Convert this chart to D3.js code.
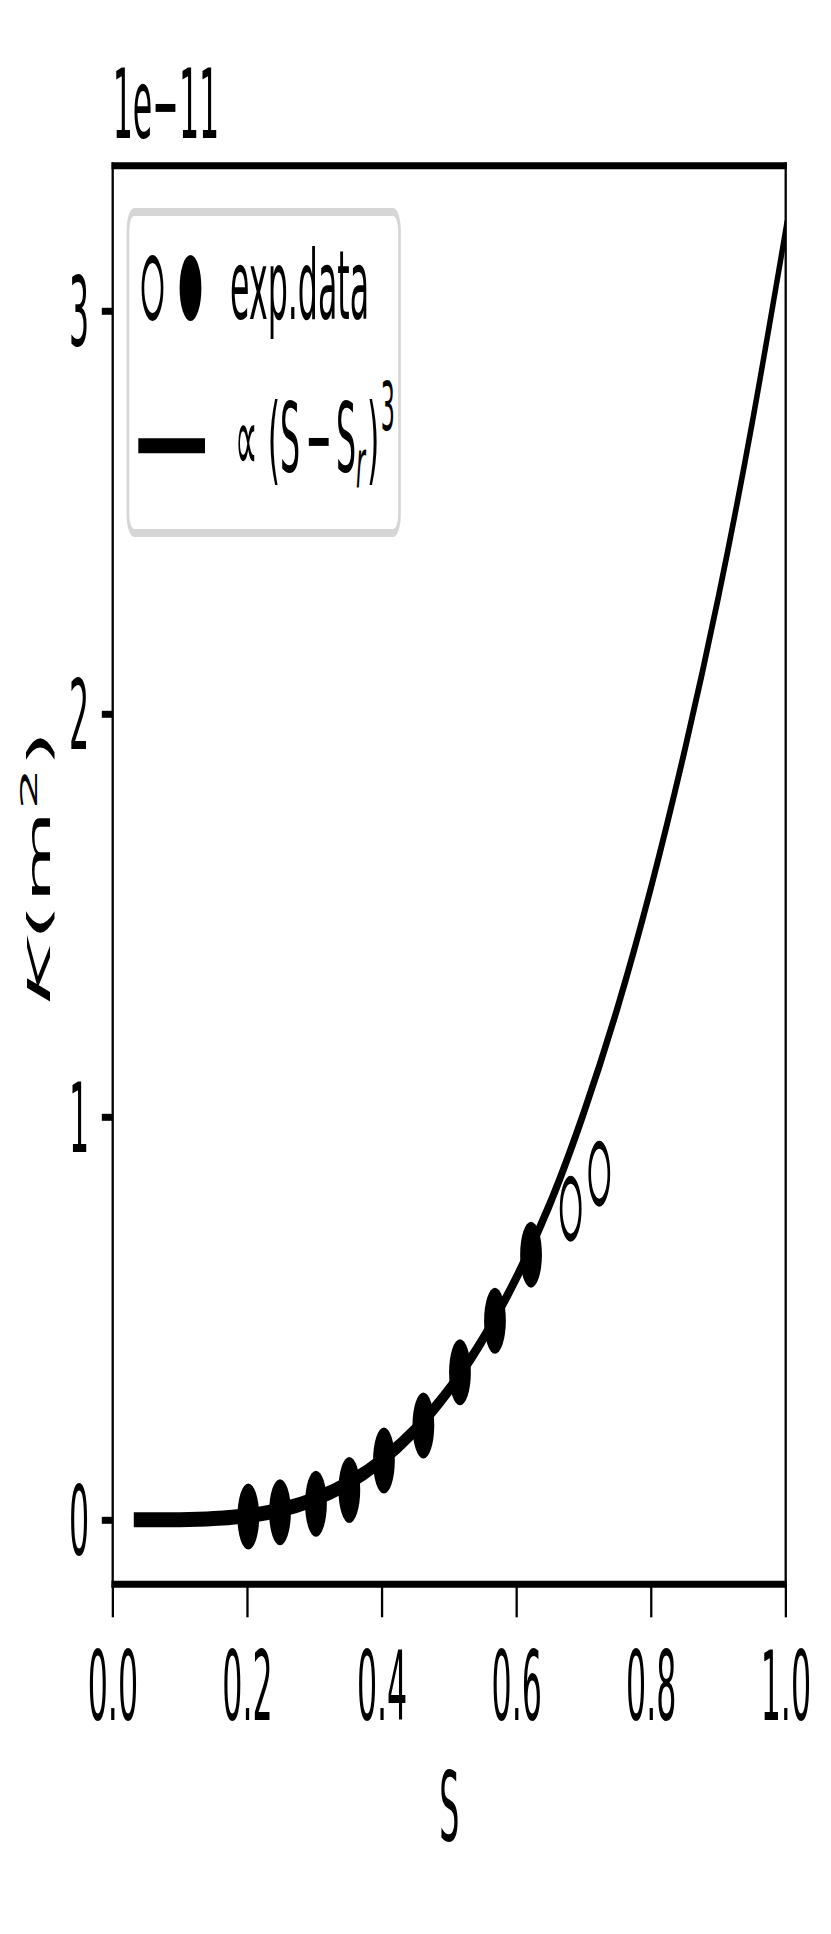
<!DOCTYPE html>
<html><head><meta charset="utf-8">
<script src="https://cdn.jsdelivr.net/npm/d3@7"></script>
<style>body{margin:0;background:#fff} svg{display:block}</style>
</head><body>
<svg id="chart" width="831" height="1934"></svg>
<script>
// ---- data (K in units of 1e-11 m^2) ----
const filledS = [0.2015, 0.2486, 0.302, 0.3516, 0.403, 0.4616, 0.516, 0.568, 0.6216];
const filledK = [0.008, 0.019, 0.040, 0.074, 0.147, 0.234, 0.366, 0.494, 0.658];
const openS = [0.6805, 0.723];
const openK = [0.772, 0.859];
const fitS = [0.035, 0.10, 0.15, 0.20, 0.25, 0.30, 0.35, 0.40, 0.45, 0.50, 0.55, 0.60, 0.65, 0.70, 0.75, 0.80, 0.85, 0.90, 0.95, 1.00];
const fitK = [0.0, 0.0003, 0.003, 0.010, 0.025, 0.051, 0.091, 0.148, 0.224, 0.323, 0.448, 0.601, 0.785, 1.01, 1.27, 1.57, 1.91, 2.29, 2.72, 3.20];
const xTicks = [0, 0.2, 0.4, 0.6, 0.8, 1.0];
const xTickLabels = ["0.0", "0.2", "0.4", "0.6", "0.8", "1.0"];
const yTicks = [0, 1, 2, 3];
const yTickLabels = ["0", "1", "2", "3"];
const offsetText = "1e−11";
const legendLabels = ["exp.data"];

// ---- layout (drawn in an unsqueezed frame, then squeezed horizontally) ----
const F = 0.33;
const FONT = "DejaVu Sans";
const FS = 96;
const X0 = 112.7 / F, X1 = 785.7 / F, Y0 = 1584.3, Y1 = 165.7;

const svg = d3.select("#chart");
svg.append("rect").attr("width", 831).attr("height", 1934).attr("fill", "#fff");
const g = svg.append("g").attr("transform", `scale(${F},1)`);

const x = d3.scaleLinear().domain([0, 1]).range([X0, X1]);
const y = d3.scaleLinear().domain([-0.16, 3.36]).range([Y0, Y1]);

g.append("clipPath").attr("id", "clip").append("rect")
  .attr("x", X0).attr("y", Y1).attr("width", X1 - X0).attr("height", Y0 - Y1);

// fit curve
const plot = g.append("g").attr("clip-path", "url(#clip)");
const fitData = fitS.map((s, i) => [s, fitK[i]]);
plot.append("path").datum(fitData)
  .attr("d", d3.line().x(d => x(d[0])).y(d => y(d[1])).curve(d3.curveNatural))
  .attr("fill", "none").attr("stroke", "#000").attr("stroke-width", 15)
  .attr("stroke-linecap", "square").attr("stroke-linejoin", "round");

// filled markers
plot.selectAll(".filled").data(filledS.map((s, i) => [s, filledK[i]])).join("circle")
  .attr("cx", d => x(d[0])).attr("cy", d => y(d[1])).attr("r", 33).attr("fill", "#000");
// open markers
plot.selectAll(".open").data(openS.map((s, i) => [s, openK[i]])).join("circle")
  .attr("cx", d => x(d[0])).attr("cy", d => y(d[1])).attr("r", 29)
  .attr("fill", "none").attr("stroke", "#000").attr("stroke-width", 8);

// axes
const xAxis = g.append("g").attr("transform", `translate(0,${Y0})`)
  .call(d3.axisBottom(x).tickValues(xTicks).tickFormat((d, i) => xTickLabels[i]).tickSize(33));
xAxis.select(".domain").remove();
xAxis.selectAll(".tick line").attr("stroke", "#000").attr("stroke-width", 7);
xAxis.selectAll(".tick text").attr("y", 136).attr("dy", null)
  .attr("font-family", FONT).attr("font-size", FS).attr("fill", "#000");

const yAxis = g.append("g").attr("transform", `translate(${X0},0)`)
  .call(d3.axisLeft(y).tickValues(yTicks).tickFormat((d, i) => yTickLabels[i]).tickSize(33));
yAxis.select(".domain").remove();
yAxis.selectAll(".tick line").attr("stroke", "#000").attr("stroke-width", 7);
yAxis.selectAll(".tick text").attr("x", -71).attr("y", 35).attr("dy", null)
  .attr("font-family", FONT).attr("font-size", FS).attr("fill", "#000");
xAxis.attr("font-family", FONT);
yAxis.attr("font-family", FONT);

// spines
const spines = [[X0, Y0, X1, Y0], [X0, Y1, X1, Y1], [X0, Y0, X0, Y1], [X1, Y0, X1, Y1]];
g.selectAll(".spine").data(spines).join("line")
  .attr("x1", d => d[0]).attr("y1", d => d[1]).attr("x2", d => d[2]).attr("y2", d => d[3])
  .attr("stroke", "#000").attr("stroke-width", 7).attr("stroke-linecap", "square");

// offset text
g.append("text").attr("x", X0).attr("y", 138).text(offsetText)
  .attr("font-family", FONT).attr("font-size", FS).attr("fill", "#000");

// x label
g.append("text").attr("x", (X0 + X1) / 2).attr("y", 1841).attr("text-anchor", "middle")
  .attr("font-family", FONT).attr("font-size", FS).attr("fill", "#000").text("S");

// y label  K(m^2)
const yl = g.append("text").attr("transform", `translate(${50 / F},867) rotate(-90)`)
  .attr("text-anchor", "middle").attr("font-family", FONT).attr("font-size", FS).attr("fill", "#000");
yl.append("tspan").attr("font-style", "italic").text("K");
yl.append("tspan").text("(m");
yl.append("tspan").attr("font-size", 67).attr("dy", -40).text("2");
yl.append("tspan").attr("dy", 40).text(")");

// legend
const LX = 127.9 / F, LX2 = 399.5 / F, LY = 212, LY2 = 533;
g.append("rect").attr("x", LX).attr("y", LY).attr("width", LX2 - LX).attr("height", LY2 - LY)
  .attr("rx", 19).attr("ry", 19).attr("fill", "#fff").attr("stroke", "#d6d6d6").attr("stroke-width", 8);
g.append("circle").attr("cx", 152.5 / F).attr("cy", 288).attr("r", 29)
  .attr("fill", "none").attr("stroke", "#000").attr("stroke-width", 8);
g.append("circle").attr("cx", 190.5 / F).attr("cy", 288).attr("r", 33).attr("fill", "#000");
g.append("text").attr("x", 230 / F).attr("y", 319).text(legendLabels[0])
  .attr("font-family", FONT).attr("font-size", FS).attr("fill", "#000");
g.append("line").attr("x1", 138.3 / F).attr("x2", 205 / F).attr("y1", 445.8).attr("y2", 445.8)
  .attr("stroke", "#000").attr("stroke-width", 15);
const lt = g.append("text").attr("x", 235 / F).attr("y", 472)
  .attr("font-family", FONT).attr("font-size", FS).attr("fill", "#000");
lt.append("tspan").text("∝ (S");
lt.append("tspan").attr("dx", 16).text("−");
lt.append("tspan").attr("dx", 12).text("S");
lt.append("tspan").attr("font-size", 67).attr("font-style", "italic").attr("dy", 16).text("r");
lt.append("tspan").attr("dx", 6).attr("dy", -16).text(")");
lt.append("tspan").attr("font-size", 67).attr("dx", 4).attr("dy", -42).text("3");
</script>
</body></html>
